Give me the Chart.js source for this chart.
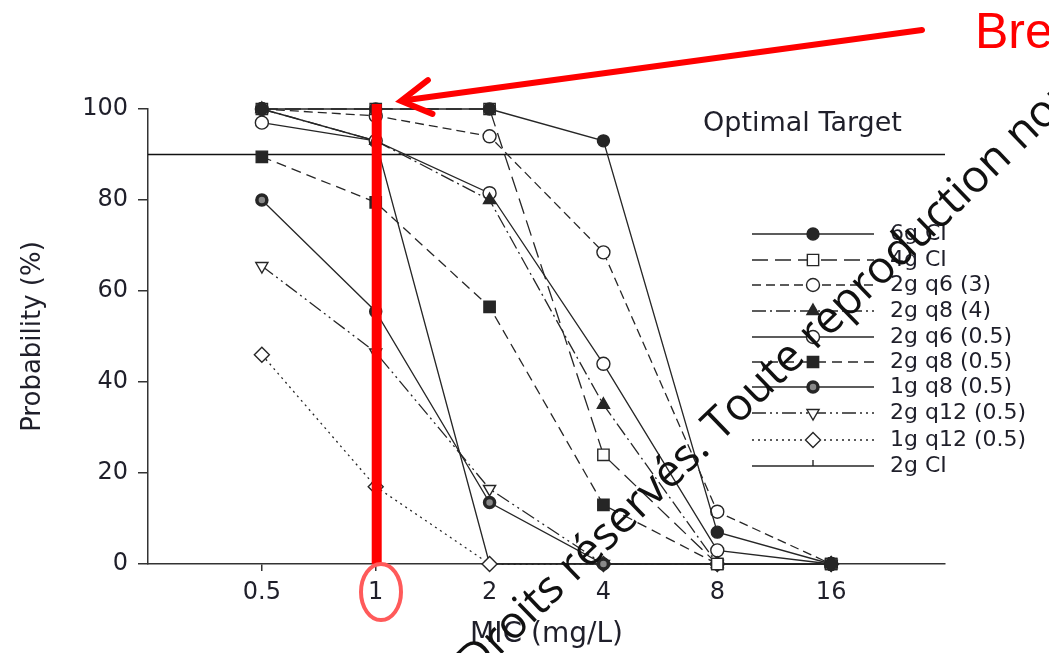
<!DOCTYPE html>
<html>
<head>
<meta charset="utf-8">
<script src="https://cdn.jsdelivr.net/npm/chart.js@4"></script>
<style>
  html, body { margin: 0; padding: 0; background: #fff; }
  #wrap { width: 1049px; height: 653px; position: relative; }
</style>
</head>
<body>
<div id="wrap"><canvas id="mycanvas"></canvas></div>
<script>
// MIC categories and y ticks
var micLabels = ['0.5', '1', '2', '4', '8', '16'];
var yTicks = [0, 20, 40, 60, 80, 100];
var targetValue = 90;

// probability (%) per regimen
var names = ['6g CI', '4g CI', '2g q6 (3)', '2g q8 (4)', '2g q6 (0.5)', '2g q8 (0.5)',
             '1g q8 (0.5)', '2g q12 (0.5)', '1g q12 (0.5)', '2g CI'];
var s6gCI    = [100, 100, 100, 93, 7, 0];
var s4gCI    = [100, 100, 100, 24, 0, 0];
var s2gq6_3  = [100, 98.5, 94, 68.5, 11.5, 0];
var s2gq8_4  = [100, 93, 80, 35, 0, 0];
var s2gq6_05 = [97, 93, 81.5, 44, 3, 0];
var s2gq8_05 = [89.5, 79.5, 56.5, 13, 0, 0];
var s1gq8_05 = [80, 55.5, 13.5, 0, 0, 0];
var s2gq12_05 = [65.5, 46.5, 16.5, 0, 0, 0];
var s1gq12_05 = [46, 17, 0, 0, 0, 0];
var s2gCI    = [100, 93, 0, 0, 0, 0];

var ink = '#262626';
var txt = '#1f1f2a';

function pts(arr) {
  return arr.map(function (v, i) { return { x: i, y: v }; });
}

function series(label, arr, dash, style, radius, filled, extra) {
  var d = {
    label: label,
    data: pts(arr),
    borderColor: ink,
    borderWidth: 1.3,
    borderDash: dash,
    pointStyle: style,
    pointRadius: radius,
    pointBorderWidth: 1.4,
    pointBorderColor: ink,
    pointBackgroundColor: filled ? ink : '#fff',
    pointRotation: 0,
    tension: 0,
    clip: false
  };
  for (var k in extra) d[k] = extra[k];
  return d;
}

var datasets = [
  series(names[0], s6gCI, [], 'circle', 6, true),
  series(names[1], s4gCI, [16, 7], 'rect', 8, false),
  series(names[2], s2gq6_3, [9, 5], 'circle', 6.5, false),
  series(names[3], s2gq8_4, [14, 4, 2, 4], 'triangle', 7, true),
  series(names[4], s2gq6_05, [], 'circle', 6.5, false),
  series(names[5], s2gq8_05, [10, 6], 'rect', 8, true),
  series(names[6], s1gq8_05, [], 'circle', 5, false, { pointBorderWidth: 3.5, pointBackgroundColor: '#888' }),
  series(names[7], s2gq12_05, [14, 4, 2, 4, 2, 4], 'triangle', 7, false, { pointRotation: 180 }),
  series(names[8], s1gq12_05, [2, 4], 'rectRot', 7.5, false),
  series(names[9], s2gCI, [], 'dash', 6, false, { pointRotation: -90 }),
  {
    label: 'target',
    data: [{ x: -1, y: targetValue }, { x: 6, y: targetValue }],
    borderColor: '#111',
    borderWidth: 1.3,
    pointRadius: 0,
    clip: false
  }
];

var overlay = {
  id: 'overlay',
  afterDatasetsDraw: function (chart) {
    var ctx = chart.ctx;
    ctx.save();
    ctx.fillStyle = txt;
    ctx.font = '27px "DejaVu Sans"';
    ctx.textBaseline = 'middle';
    ctx.textAlign = 'left';
    ctx.fillText('Optimal Target', 703, 124);

    // legend
    var rowY = [234, 260, 285, 311, 337, 362, 387, 413, 440, 466];
    for (var i = 0; i < 10; i++) {
      var ds = chart.data.datasets[i];
      var y = rowY[i];
      ctx.strokeStyle = ink;
      ctx.lineWidth = 1.3;
      ctx.setLineDash(ds.borderDash);
      ctx.beginPath();
      ctx.moveTo(752, y);
      ctx.lineTo(874, y);
      ctx.stroke();
      ctx.setLineDash([]);
      ctx.fillStyle = ds.pointBackgroundColor;
      ctx.strokeStyle = ink;
      ctx.lineWidth = ds.pointBorderWidth;
      Chart.helpers.drawPoint(ctx, {
        pointStyle: ds.pointStyle,
        radius: ds.pointRadius,
        rotation: ds.pointRotation,
        borderWidth: ds.pointBorderWidth
      }, 813, y);
      ctx.fillStyle = txt;
      ctx.font = '22px "DejaVu Sans"';
      ctx.fillText(ds.label, 890, y);
    }
    ctx.restore();
  },
  afterDraw: function (chart) {
    var ctx = chart.ctx;
    var xs = chart.scales.x;
    var x1 = xs.getPixelForValue(1) + 1;
    ctx.save();
    // red breakpoint bar
    ctx.strokeStyle = '#ff0000';
    ctx.lineWidth = 10;
    ctx.beginPath();
    ctx.moveTo(x1, 104);
    ctx.lineTo(x1, 564);
    ctx.stroke();
    // arrow
    var tipX = 401, tipY = 101, tailX = 922, tailY = 30;
    ctx.lineWidth = 6;
    ctx.lineCap = 'round';
    ctx.beginPath();
    ctx.moveTo(tailX, tailY);
    ctx.lineTo(tipX + 6, tipY - 1);
    ctx.stroke();
    var ang = Math.atan2(tailY - tipY, tailX - tipX);
    var wing = 34, spread = 30 * Math.PI / 180;
    ctx.beginPath();
    ctx.moveTo(tipX + wing * Math.cos(ang - spread), tipY + wing * Math.sin(ang - spread));
    ctx.lineTo(tipX, tipY);
    ctx.lineTo(tipX + wing * Math.cos(ang + spread), tipY + wing * Math.sin(ang + spread));
    ctx.stroke();
    ctx.fillStyle = '#ff0000';
    ctx.font = '50px "Liberation Sans"';
    ctx.textBaseline = 'alphabetic';
    ctx.fillText('Breakpoint', 975, 48);
    // ellipse round the "1"
    ctx.strokeStyle = '#ff5a5a';
    ctx.lineWidth = 4;
    ctx.beginPath();
    ctx.ellipse(381, 592, 20, 28, 0, 0, Math.PI * 2);
    ctx.stroke();
    // watermark
    ctx.fillStyle = '#111';
    ctx.font = '45px "Open Sans"';
    ctx.translate(575, 583);
    ctx.rotate(-44 * Math.PI / 180);
    var pre = ctx.measureText('Droits ').width;
    ctx.fillText('Droits réservés. Toute reproduction non autorisée', -pre, 0);
    ctx.restore();
  }
};

var ctx = document.getElementById('mycanvas');
var chart = new Chart(ctx, {
  type: 'line',
  data: { datasets: datasets },
  plugins: [overlay],
  options: {
    responsive: true,
    maintainAspectRatio: false,
    animation: false,
    events: [],
    layout: { padding: { top: 109, right: 104, left: 0, bottom: 0 } },
    plugins: { legend: { display: false }, tooltip: { enabled: false } },
    scales: {
      x: {
        type: 'linear',
        min: -1,
        max: 6,
        afterBuildTicks: function (scale) {
          scale.ticks = micLabels.map(function (l, i) { return { value: i }; });
        },
        afterFit: function (scale) { scale.height = 89; },
        ticks: {
          autoSkip: false,
          maxRotation: 0,
          padding: 7,
          color: txt,
          font: { family: 'DejaVu Sans', size: 24 },
          callback: function (v) { return micLabels[v]; }
        },
        grid: { drawOnChartArea: false, drawTicks: true, tickLength: 7, color: '#333', lineWidth: 1.5 },
        border: { display: true, color: '#333', width: 1.5 },
        title: {
          display: true,
          text: 'MIC (mg/L)',
          color: txt,
          font: { family: 'DejaVu Sans', size: 28 },
          padding: { top: 0, bottom: 1 }
        }
      },
      y: {
        min: 0,
        max: 100,
        afterBuildTicks: function (scale) {
          scale.ticks = yTicks.map(function (v) { return { value: v }; });
        },
        afterFit: function (scale) { scale.width = 148; },
        ticks: {
          padding: 10,
          color: txt,
          font: { family: 'DejaVu Sans', size: 24 }
        },
        grid: { drawOnChartArea: false, drawTicks: true, tickLength: 10, color: '#333', lineWidth: 1.5 },
        border: { display: true, color: '#333', width: 1.5 },
        title: {
          display: true,
          text: 'Probability (%)',
          color: txt,
          font: { family: 'DejaVu Sans', size: 26 },
          padding: { top: 18, bottom: 0 }
        }
      }
    }
  }
});
</script>
</body>
</html>
